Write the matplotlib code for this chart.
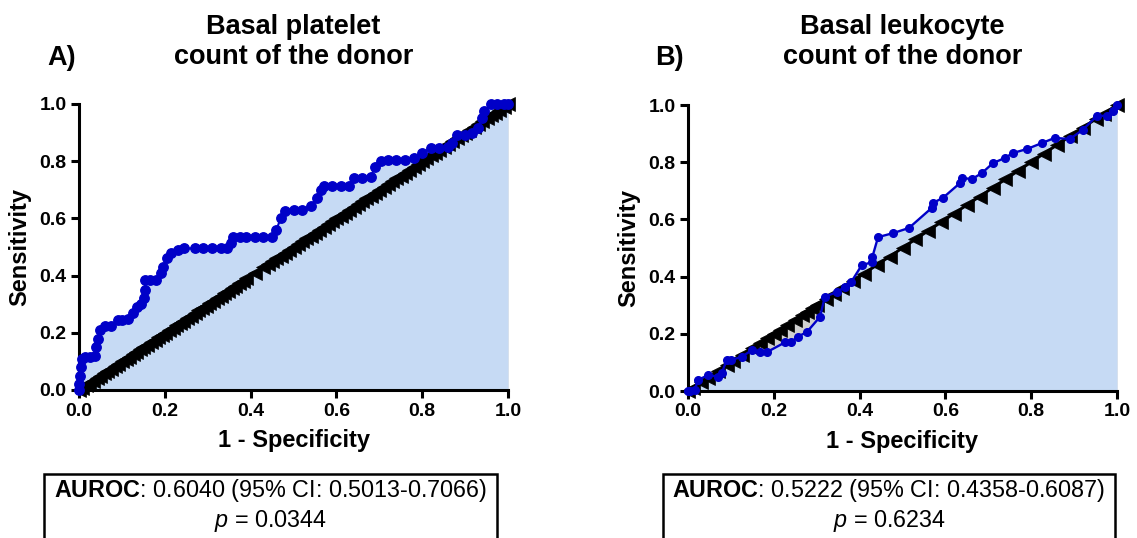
import matplotlib
matplotlib.use("Agg")
import matplotlib.pyplot as plt
from matplotlib.patches import Rectangle

plt.rcParams['font.family'] = ['Liberation Sans', 'DejaVu Sans']
plt.rcParams['mathtext.fontset'] = 'custom'
plt.rcParams['mathtext.rm'] = 'Liberation Sans'
plt.rcParams['mathtext.it'] = 'Liberation Sans:italic'
plt.rcParams['mathtext.bf'] = 'Liberation Sans:bold'

# ---------------- data ----------------
panel_letters = ["A)", "B)"]
titles = ["Basal platelet\ncount of the donor", "Basal leukocyte\ncount of the donor"]
x_label = "1 - Specificity"
y_label = "Sensitivity"
tick_vals = [0.0, 0.2, 0.4, 0.6, 0.8, 1.0]
tick_labels = ["0.0", "0.2", "0.4", "0.6", "0.8", "1.0"]

roc_a_x = [0.0, 0.0, 0.003, 0.005, 0.007, 0.015, 0.025, 0.037, 0.04, 0.044, 0.05, 0.06,
           0.075, 0.09, 0.1, 0.114, 0.125, 0.135, 0.145, 0.152, 0.154, 0.154, 0.165, 0.18,
           0.19, 0.196, 0.205, 0.215, 0.23, 0.245, 0.27, 0.29, 0.31, 0.33, 0.345, 0.355,
           0.36, 0.375, 0.39, 0.41, 0.43, 0.45, 0.46, 0.47, 0.48, 0.5, 0.52, 0.54, 0.555,
           0.565, 0.57, 0.59, 0.61, 0.63, 0.64, 0.66, 0.68, 0.69, 0.705, 0.72, 0.74, 0.76,
           0.78, 0.8, 0.82, 0.84, 0.86, 0.87, 0.88, 0.9, 0.915, 0.93, 0.94, 0.945, 0.96,
           0.975, 0.99, 1.0]
roc_a_y = [0.0, 0.02, 0.05, 0.08, 0.11, 0.115, 0.115, 0.12, 0.15, 0.18, 0.21, 0.225,
           0.225, 0.245, 0.245, 0.25, 0.27, 0.29, 0.3, 0.32, 0.35, 0.385, 0.385, 0.385,
           0.41, 0.43, 0.46, 0.48, 0.49, 0.495, 0.495, 0.495, 0.495, 0.495, 0.495, 0.515,
           0.535, 0.535, 0.535, 0.535, 0.535, 0.535, 0.56, 0.6, 0.625, 0.63, 0.63, 0.645, 0.67,
           0.7, 0.715, 0.715, 0.715, 0.715, 0.74, 0.74, 0.745, 0.78, 0.8, 0.805, 0.805, 0.805,
           0.81, 0.83, 0.845, 0.845, 0.85, 0.865, 0.89, 0.89, 0.9, 0.915, 0.95, 0.975, 1.0,
           1.0, 1.0, 1.0]

diag_a = [0.0, 0.008, 0.016, 0.024, 0.033, 0.041, 0.05, 0.058, 0.066, 0.075, 0.083,
          0.092, 0.1, 0.109, 0.117, 0.125, 0.134, 0.142, 0.15, 0.159, 0.167, 0.176, 0.184,
          0.193, 0.2, 0.209, 0.218, 0.226, 0.235, 0.243, 0.252, 0.26, 0.27, 0.278, 0.287,
          0.295, 0.304, 0.312, 0.321, 0.33, 0.338, 0.347, 0.356, 0.364, 0.373, 0.382,
          0.39, 0.41, 0.43, 0.44, 0.45, 0.46, 0.47, 0.48, 0.49, 0.5, 0.51, 0.52, 0.53,
          0.54, 0.55, 0.56, 0.57, 0.58, 0.59, 0.6, 0.61, 0.62, 0.63, 0.64, 0.65, 0.66,
          0.67, 0.68, 0.69, 0.7, 0.71, 0.72, 0.73, 0.74, 0.75, 0.76, 0.77, 0.78, 0.79,
          0.8, 0.81, 0.82, 0.83, 0.84, 0.85, 0.86, 0.87, 0.88, 0.89, 0.9, 0.91, 0.92,
          0.93, 0.94, 0.95, 0.96, 0.97, 0.98, 0.99, 1.0]

roc_b_x = [0.0, 0.005, 0.016, 0.023, 0.047, 0.07, 0.079, 0.09, 0.1, 0.126, 0.149, 0.168,
           0.184, 0.226, 0.24, 0.256, 0.277, 0.308, 0.319, 0.347, 0.366, 0.38, 0.405, 0.428,
           0.43, 0.443, 0.478, 0.515, 0.568, 0.57, 0.594, 0.634, 0.638, 0.662, 0.685, 0.711,
           0.739, 0.757, 0.79, 0.825, 0.855, 0.89, 0.92, 0.953, 0.977, 0.99, 1.0]
roc_b_y = [0.0, 0.0, 0.005, 0.038, 0.056, 0.05, 0.063, 0.108, 0.108, 0.12, 0.143, 0.136,
           0.136, 0.17, 0.17, 0.19, 0.206, 0.26, 0.33, 0.346, 0.364, 0.38, 0.44, 0.45,
           0.47, 0.538, 0.552, 0.57, 0.64, 0.657, 0.675, 0.727, 0.745, 0.741, 0.762, 0.797,
           0.815, 0.832, 0.846, 0.867, 0.885, 0.881, 0.913, 0.962, 0.962, 0.98, 1.0]

diag_b = [0.0, 0.012, 0.03, 0.047, 0.07, 0.09, 0.105, 0.126, 0.149, 0.168, 0.184, 0.2,
          0.214, 0.23, 0.249, 0.265, 0.277, 0.29, 0.3, 0.322, 0.34, 0.36, 0.385, 0.41,
          0.44, 0.47, 0.5, 0.53, 0.56, 0.59, 0.62, 0.65, 0.68, 0.71, 0.74, 0.77, 0.8,
          0.83, 0.86, 0.89, 0.92, 0.95, 0.97, 1.0]

auroc_text = ["$\\bf{AUROC}$: 0.6040 (95% CI: 0.5013-0.7066)",
              "$\\bf{AUROC}$: 0.5222 (95% CI: 0.4358-0.6087)"]
p_text = ["$\\it{p}$ = 0.0344", "$\\it{p}$ = 0.6234"]

# ---------------- styling ----------------
W, H = 1137, 538
fig = plt.figure(figsize=(W / 100, H / 100), dpi=100)

blue = "#0000c8"
fill_blue = "#c6daf4"
grey = "#d0d0d0"

axes_px = [(79, 508, 104, 390), (688, 1117, 105, 391)]
box_px = [(44, 497), (663, 1115)]
letter_x = [47, 655]
panels = [(roc_a_x, roc_a_y, diag_a, 6.8, 1.5, 9.5), (roc_b_x, roc_b_y, diag_b, 5.5, 1.7, 10)]

for i in range(2):
    x0, x1, ytop, ybot = axes_px[i]
    ax = fig.add_axes([x0 / W, 1 - ybot / H, (x1 - x0) / W, (ybot - ytop) / H])
    rx, ry, dg, ms, lw, dms = panels[i]
    ax.fill_between(dg, dg, 0, color=grey, lw=0, zorder=1)
    ax.fill_between(rx, ry, 0, color=fill_blue, lw=0, zorder=2)
    ax.plot(dg, dg, color="black", lw=2, marker="<", ms=dms, mec="black", mfc="black",
            mew=0.5, zorder=3, clip_on=False)
    ax.plot(rx, ry, color=blue, lw=lw, marker="o", ms=ms, mec=blue, mfc=blue,
            zorder=4, clip_on=False)
    ax.set_xlim(0, 1)
    ax.set_ylim(0, 1)
    for s in ["top", "right"]:
        ax.spines[s].set_visible(False)
    for s in ["left", "bottom"]:
        ax.spines[s].set_linewidth(2.2)
    ax.set_xticks(tick_vals)
    ax.set_xticklabels(tick_labels)
    ax.set_yticks(tick_vals)
    ax.set_yticklabels(tick_labels)
    ax.tick_params(length=6, width=2.2, labelsize=14, pad=3)
    for lab in ax.get_xticklabels() + ax.get_yticklabels():
        lab.set_fontweight("bold")
    ax.set_xlabel(x_label, fontsize=17, fontweight="bold", labelpad=7)
    ax.set_ylabel(y_label, fontsize=17, fontweight="bold", labelpad=6)
    cx = (x0 + x1) / 2
    fig.text(cx / W, 1 - 42 / H, titles[i], ha="center", va="center",
             fontsize=19.5, fontweight="bold", linespacing=1.2)
    fig.text(letter_x[i] / W, 1 - 58 / H, panel_letters[i], ha="left", va="center",
             fontsize=19.5, fontweight="bold")
    bx0, bx1 = box_px[i]
    fig.add_artist(Rectangle((bx0 / W, -0.05), (bx1 - bx0) / W, 0.05 + (H - 474) / H,
                             transform=fig.transFigure, fill=False, lw=1.8,
                             edgecolor="black", clip_on=False))
    bcx = (bx0 + bx1) / 2
    fig.text(bcx / W, 1 - 491 / H, auroc_text[i], ha="center", va="center", fontsize=16.8)
    fig.text(bcx / W, 1 - 521 / H, p_text[i], ha="center", va="center", fontsize=16.8)

fig.savefig("out.png", dpi=100)
